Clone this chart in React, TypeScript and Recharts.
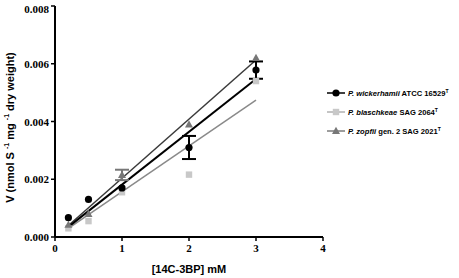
import { ComposedChart, Scatter, Line, XAxis, YAxis, ErrorBar, Label } from "recharts"

const xTicks = [0, 1, 2, 3, 4]
const yTicks = [0, 0.002, 0.004, 0.006, 0.008]

const conc = [0.2, 0.5, 1, 2, 3]
const wickerhamii = [0.00067, 0.0013, 0.0017, 0.0031, 0.00578]
const wickerhamiiErr = [null, null, null, 0.0004, 0.0003]
const blaschkeae = [0.0003, 0.00055, 0.00155, 0.00216, 0.0054]
const zopfii = [0.00042, 0.0008, 0.00215, 0.0039, 0.0062]
const zopfiiErr = [null, null, 0.00018, null, null]

const fitX = [0.2, 3]
const wickerhamiiFit = [0.00035, 0.00547]
const blaschkeaeFit = [0.0003, 0.00474]
const zopfiiFit = [0.0004, 0.00613]

const toPts = (ys: number[], errs?: (number | null)[]) =>
    conc.map((x, i) => ({ x, y: ys[i], err: errs ? errs[i] ?? undefined : undefined }))
const toFit = (ys: number[]) => fitX.map((x, i) => ({ x, y: ys[i] }))

const SERIES = [
    { key: "w", name: "P. wickerhamii", rest: " ATCC 16529", color: "#000", line: "#000", shape: "circle" },
    { key: "b", name: "P. blaschkeae", rest: " SAG 2064", color: "#c8c8c8", line: "#8a8a8a", shape: "square" },
    { key: "z", name: "P. zopfii", rest: " gen. 2 SAG 2021", color: "#777", line: "#3a3a3a", shape: "triangle" },
]

function Marker({ cx, cy, kind, color }: any) {
    if (cx == null || cy == null) return null
    if (kind === "circle") return <circle cx={cx} cy={cy} r={3.6} fill={color} />
    if (kind === "square") return <rect x={cx - 3.2} y={cy - 3.2} width={6.4} height={6.4} fill={color} />
    return <polygon points={`${cx},${cy - 4.2} ${cx - 4},${cy + 3} ${cx + 4},${cy + 3}`} fill={color} />
}

function LegendBox() {
    return (
        <svg width={140} height={60} style={{ position: "absolute", left: 325, top: 85 }}>
            {SERIES.map((s, i) => {
                const y = 8 + i * 19
                return (
                    <g key={s.key}>
                        <line x1={2} x2={20} y1={y} y2={y} stroke={s.line} strokeWidth={s.key === "w" ? 1.5 : 1} />
                        <Marker cx={11} cy={y} kind={s.shape} color={s.color} />
                        <text x={23} y={y + 2.8} fontFamily="Liberation Sans, Arial" fontWeight="bold" fontSize={7.6} fill="#000">
                            <tspan fontStyle="italic">{s.name}</tspan>
                            <tspan>{s.rest}</tspan>
                            <tspan fontSize={5} dy={-3}>T</tspan>
                        </text>
                    </g>
                )
            })}
        </svg>
    )
}

const SerifTick = ({ x, y, payload, axis }: any) => {
    const isY = axis === "y"
    const label = isY ? payload.value.toFixed(3) : String(payload.value)
    return (
        <text x={isY ? x : x} y={isY ? y + 4 : y + 9} textAnchor={isY ? "end" : "middle"}
              fontFamily="Liberation Serif, 'Times New Roman', serif" fontWeight="bold" fontSize={11} fill="#000">
            {label}
        </text>
    )
}

export default function App() {
    return (
        <div style={{ position: "absolute", left: 0, top: 0, width: 459, height: 278, background: "#fff" }}>
            <ComposedChart width={459} height={278} margin={{ top: 6, right: 136, bottom: 23, left: 5 }}>
                <XAxis
                    type="number"
                    dataKey="x"
                    domain={[0, 4]}
                    ticks={xTicks}
                    tick={(p: any) => <SerifTick {...p} axis="x" />}
                    tickSize={4}
                    height={18}
                    axisLine={{ stroke: "#000", strokeWidth: 2 }}
                    tickLine={{ stroke: "#000", strokeWidth: 1.5 }}
                >
                    <Label
                        content={({ viewBox }: any) => (
                            <text x={viewBox.x + viewBox.width / 2} y={viewBox.y + 36} textAnchor="middle"
                                  fontFamily="Liberation Sans, Arial" fontWeight="bold" fontSize={11} fill="#000">
                                [14C-3BP] mM
                            </text>
                        )}
                    />
                </XAxis>
                <YAxis
                    type="number"
                    dataKey="y"
                    domain={[0, 0.008]}
                    ticks={yTicks}
                    tick={(p: any) => <SerifTick {...p} axis="y" />}
                    tickSize={4}
                    width={50}
                    axisLine={{ stroke: "#000", strokeWidth: 2 }}
                    tickLine={{ stroke: "#000", strokeWidth: 1.5 }}
                >
                    <Label
                        content={({ viewBox }: any) => {
                            const cx = 10
                            const cy = viewBox.y + viewBox.height / 2 + 6
                            return (
                                <text x={cx} y={cy} transform={`rotate(-90 ${cx} ${cy})`} textAnchor="middle"
                                      dominantBaseline="central" fontFamily="Liberation Sans, Arial" fontWeight="bold" fontSize={11} fill="#000">
                                    V (nmol S <tspan fontSize={7} dy={-4}>-1</tspan><tspan dy={4}> mg </tspan>
                                    <tspan fontSize={7} dy={-4}>-1</tspan><tspan dy={4}> dry weight)</tspan>
                                </text>
                            )
                        }}
                    />
                </YAxis>
                <Line data={toFit(blaschkeaeFit)} dataKey="y" stroke="#8a8a8a" strokeWidth={1.5} dot={false} isAnimationActive={false} />
                <Line data={toFit(zopfiiFit)} dataKey="y" stroke="#3a3a3a" strokeWidth={1.5} dot={false} isAnimationActive={false} />
                <Line data={toFit(wickerhamiiFit)} dataKey="y" stroke="#000" strokeWidth={2} dot={false} isAnimationActive={false} />
                <Scatter data={toPts(blaschkeae)} isAnimationActive={false}
                         shape={(p: any) => <Marker {...p} kind="square" color="#c8c8c8" />} />
                <Scatter data={toPts(zopfii, zopfiiErr)} isAnimationActive={false}
                         shape={(p: any) => <Marker {...p} kind="triangle" color="#777" />}>
                    <ErrorBar dataKey="err" direction="y" width={7} stroke="#777" strokeWidth={2} />
                </Scatter>
                <Scatter data={toPts(wickerhamii, wickerhamiiErr)} isAnimationActive={false}
                         shape={(p: any) => <Marker {...p} kind="circle" color="#000" />}>
                    <ErrorBar dataKey="err" direction="y" width={7} stroke="#000" strokeWidth={2} />
                </Scatter>
            </ComposedChart>
            <LegendBox />
        </div>
    )
}
